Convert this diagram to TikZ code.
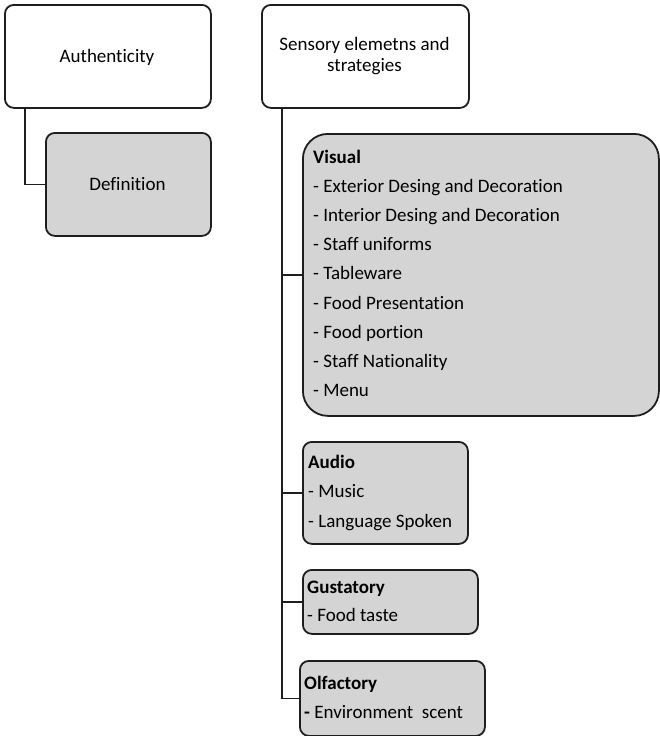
\documentclass[tikz,border=0pt]{standalone}
\usepackage{fontspec}
\setmainfont{Carlito}[RawFeature={-liga}]
\definecolor{linec}{HTML}{1E1E1E}
\definecolor{boxgray}{HTML}{D4D4D4}
\begin{document}
\begin{tikzpicture}[x=1pt,y=-1pt,
  box/.style={draw=linec, line width=1.8pt, rounded corners=9pt, inner sep=0pt, anchor=north west},
  gbox/.style={box, fill=boxgray},
  txt/.style={inner sep=0pt, anchor=base west, text=black, font=\fontsize{19}{23}\selectfont},
  ctxt/.style={inner sep=0pt, anchor=base, text=black, font=\fontsize{19}{23}\selectfont},
  conn/.style={draw=linec, line width=1.8pt}]
\useasboundingbox (0,0) rectangle (660,736);
% boxes
\node[box, minimum width=206pt, minimum height=103pt] (auth) at (4,4) {};
\node[gbox, minimum width=165pt, minimum height=103pt] (def) at (45,132) {};
\node[box, minimum width=207pt, minimum height=103pt] (sens) at (261,4) {};
\node[gbox, rounded corners=25pt, minimum width=356pt, minimum height=282pt] (vis) at (302,133) {};
\node[gbox, minimum width=165pt, minimum height=102pt] (aud) at (302,441) {};
\node[gbox, minimum width=175pt, minimum height=64pt] (gus) at (302,569) {};
\node[gbox, minimum width=185pt, minimum height=75pt] (olf) at (299,660) {};
% texts
\node[ctxt] (authT) at (107,62) {Authenticity};
\node[ctxt] (defT) at (127.5,190) {Definition};
\node[ctxt] (sensT1) at (364.5,50) {Sensory elemetns and};
\node[ctxt] (sensT2) at (364.5,71) {strategies};
\node[txt] (v0) at (313,163) {\textbf{Visual}};
\node[txt] (v1) at (313,192.2) {- Exterior Desing and Decoration};
\node[txt] (v2) at (313,221.4) {- Interior Desing and Decoration};
\node[txt] (v3) at (313,250.6) {- Staff uniforms};
\node[txt] (v4) at (313,279.8) {- Tableware};
\node[txt] (v5) at (313,309) {- Food Presentation};
\node[txt] (v6) at (313,338.2) {- Food portion};
\node[txt] (v7) at (313,367.4) {- Staff Nationality};
\node[txt] (v8) at (313,396.6) {- Menu};
\node[txt] (a0) at (308,468) {\textbf{Audio}};
\node[txt] (a1) at (308,497.5) {- Music};
\node[txt] (a2) at (308,527) {- Language Spoken};
\node[txt] (g0) at (307,593) {\textbf{Gustatory}};
\node[txt] (g1) at (307,621) {- Food taste};
\node[txt] (o0) at (304,689) {\textbf{Olfactory}};
\node[txt] (o1) at (304,718) {\textbf{-} Environment~~scent};
% connectors
\coordinate (aStem) at ([xshift=21pt]auth.south west);
\coordinate (sStem) at ([xshift=21pt]sens.south west);
\draw[conn] (aStem) |- (def.west);
\draw[conn] (sStem) |- (olf.west);
\draw[conn] (sStem |- vis.west) -- (vis.west);
\draw[conn] (sStem |- aud.west) -- (aud.west);
\draw[conn] (sStem |- gus.west) -- (gus.west);
\end{tikzpicture}
\end{document}
